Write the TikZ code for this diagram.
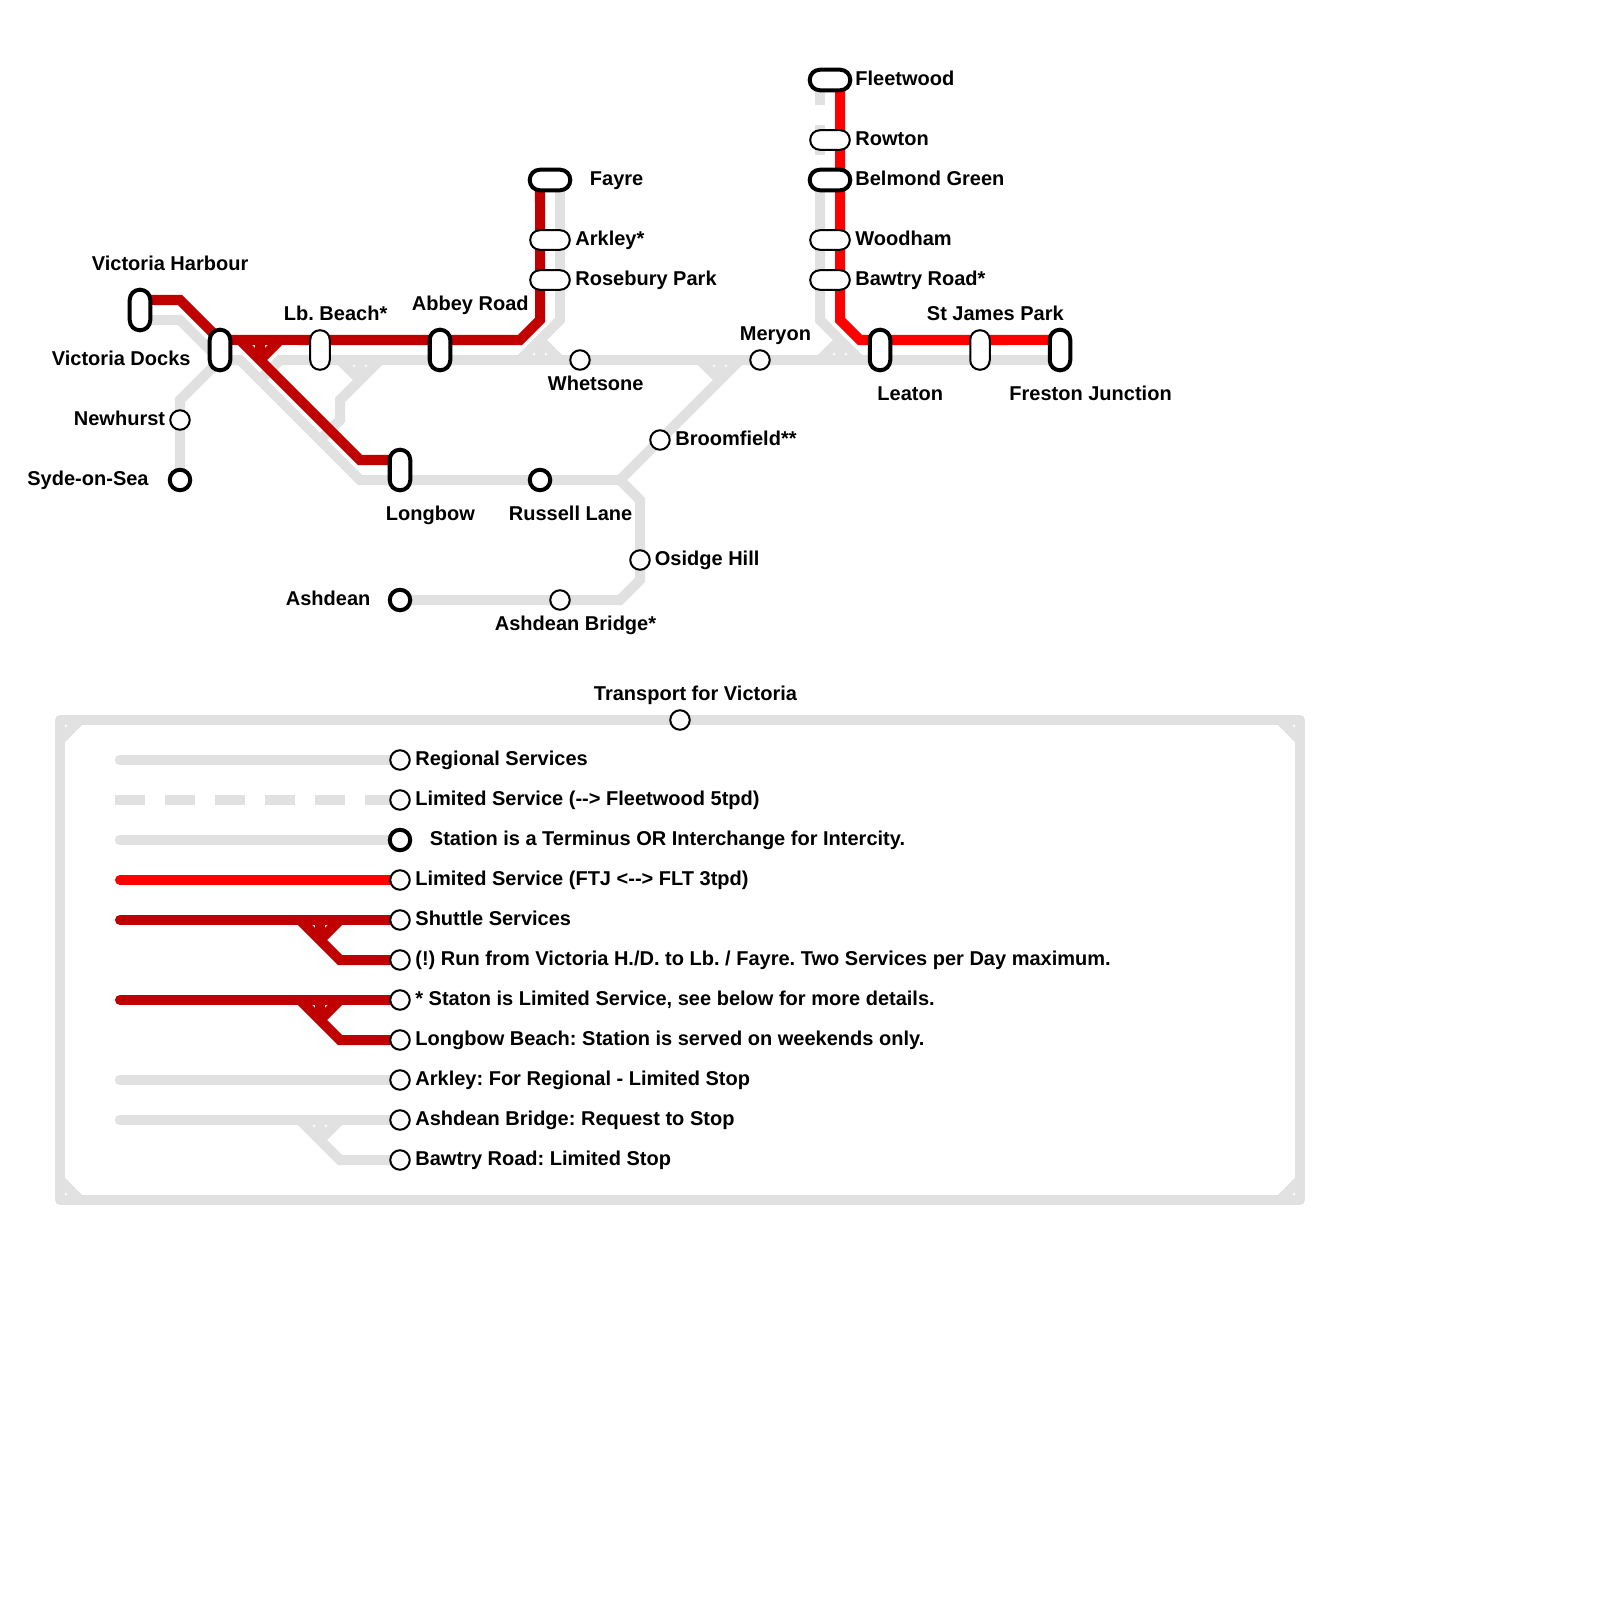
\documentclass[tikz,border=0pt]{standalone}
\usepackage{fontspec}
\setmainfont{Liberation Sans}
\usepackage{xcolor}
\usepackage{tikz}
\usetikzlibrary{backgrounds}
\definecolor{railgrey}{HTML}{E1E1E1}
\definecolor{railred}{HTML}{FF0000}
\definecolor{raildark}{HTML}{C00000}
\frenchspacing

\begin{document}
\begin{tikzpicture}[x=0.01cm,y=-0.01cm,
    regional/.style={line width=1mm,railgrey},
    limited/.style={line width=1mm,railred},
    shuttle/.style={line width=1mm,raildark},
    vstn/.style={draw,fill=white,rectangle,rounded corners=0.95mm,inner sep=0pt,outer sep=0pt,line width=0.2mm,minimum width=1.95mm,minimum height=3.95mm},
    hstn/.style={draw,fill=white,rectangle,rounded corners=0.95mm,inner sep=0pt,outer sep=0pt,line width=0.2mm,minimum width=3.95mm,minimum height=1.95mm},
    halt/.style={draw,fill=white,circle,inner sep=0pt,outer sep=0pt,line width=0.2mm,minimum size=1.95mm},
    vmajor/.style={vstn,line width=0.4mm,minimum width=2.05mm,minimum height=4.05mm,rounded corners=1mm},
    hmajor/.style={hstn,line width=0.4mm,minimum width=4.05mm,minimum height=2.05mm,rounded corners=1mm},
    haltmajor/.style={halt,line width=0.4mm,minimum size=2.05mm},
    lbl/.style={font=\bfseries\fontsize{2mm}{2.4mm}\selectfont,anchor=base west,inner sep=0pt,xshift=-0.08mm}]
  \useasboundingbox (0,0) rectangle (1600,1600);

  % stations
  \node[vmajor] (vharbour) at (140,310) {};
  \node[vmajor] (vdocks) at (220,350) {};
  \node[vstn] (lbbeach) at (320,350) {};
  \node[vmajor] (abbey) at (440,350) {};
  \node[vmajor] (longbow) at (400,470) {};
  \node[vmajor] (leaton) at (880,350) {};
  \node[vstn] (stjames) at (980,350) {};
  \node[vmajor] (freston) at (1060,350) {};
  \node[hmajor] (fayre) at (550,180) {};
  \node[hstn] (arkley) at (550,240) {};
  \node[hstn] (rosebury) at (550,280) {};
  \node[hmajor] (fleetwood) at (830,80) {};
  \node[hstn] (rowton) at (830,140) {};
  \node[hmajor] (belmond) at (830,180) {};
  \node[hstn] (woodham) at (830,240) {};
  \node[hstn] (bawtry) at (830,280) {};
  \node[halt] (newhurst) at (180,420) {};
  \node[haltmajor] (syde) at (180,480) {};
  \node[halt] (whetsone) at (580,360) {};
  \node[halt] (meryon) at (760,360) {};
  \node[halt] (broomfield) at (660,440) {};
  \node[haltmajor] (russell) at (540,480) {};
  \node[halt] (osidge) at (640,560) {};
  \node[halt] (ashbridge) at (560,600) {};
  \node[haltmajor] (ashdean) at (400,600) {};

  % legend stations
  \node[halt] (tfv) at (680,720) {};
  \node[halt] (rowa) at (400,760) {};
  \node[halt] (rowb) at (400,800) {};
  \node[haltmajor] (rowc) at (400,840) {};
  \node[halt] (rowd) at (400,880) {};
  \node[halt] (rowe) at (400,920) {};
  \node[halt] (rowf) at (400,960) {};
  \node[halt] (rowg) at (400,1000) {};
  \node[halt] (rowh) at (400,1040) {};
  \node[halt] (rowi) at (400,1080) {};
  \node[halt] (rowj) at (400,1120) {};
  \node[halt] (rowk) at (400,1160) {};

  \coordinate (starta) at (120,760);
  \coordinate (startb) at (115,800);
  \coordinate (startc) at (120,840);
  \coordinate (startd) at (120,880);
  \coordinate (starte) at (120,920);
  \coordinate (startg) at (120,1000);
  \coordinate (starti) at (120,1080);
  \coordinate (startj) at (120,1120);

  \begin{pgfonlayer}{background}
    % grey network
    \draw[regional] ([yshift=-1mm]vharbour.center) -- (180,320) -- ([yshift=-1mm]vdocks.center);
    \draw[regional] ([yshift=-1mm]vdocks.center) -- (180,400) -- (syde);
    \draw[regional] ([yshift=-1mm]vdocks.center) -- (240,360) -- (360,480) -- (620,480) -- (640,500) -- (640,580) -- (620,600) -- (ashdean);
    \draw[regional] (620,480) -- (740,360);
    \draw[regional] (260,380) -- (280,360) -- ([yshift=-1mm]freston.center);
    \draw[regional] (340,360) -- (360,380);
    \draw[regional] (360,360) -- (360,380);
    \draw[regional] (380,360) -- (340,400) -- (340,420) -- (320,440);
    \draw[regional] (520,360) -- (560,320) -- ([xshift=1mm]fayre.center);
    \draw[regional] (540,340) -- (540,360);
    \draw[regional] (540,340) -- (560,360);
    \draw[regional] (700,360) -- (720,380);
    \draw[regional] (720,360) -- (720,380);
    \draw[regional] (820,360) -- (840,340);
    \draw[regional] (840,340) -- (840,360);
    \draw[regional] ([xshift=-1mm]belmond.center) -- (820,320) -- (860,360);
    \draw[regional,dash pattern=on 3mm off 2mm,dash phase=0.5mm] ([xshift=-1mm]fleetwood.center) -- ([xshift=-1mm]belmond.center);

    % red lines
    \draw[shuttle] ([yshift=1mm]vharbour.center) -- (180,300) -- ([yshift=1mm]vdocks.center) -- (520,340) -- (540,320) -- ([xshift=-1mm]fayre.center);
    \draw[shuttle] (240,340) -- (360,460) -- ([yshift=1mm]longbow.center);
    \draw[shuttle] (260,340) -- (260,360);
    \draw[shuttle] (280,340) -- (260,360);
    \draw[limited] ([xshift=1mm]fleetwood.center) -- (840,320) -- (860,340) -- ([yshift=1mm]freston.center);

    % legend frame
    \draw[regional,line join=round] (60,720) rectangle (1300,1200);
    \draw[regional] (60,740) -- (80,720);
    \draw[regional] (1280,720) -- (1300,740);
    \draw[regional] (60,1180) -- (80,1200);
    \draw[regional] (1280,1200) -- (1300,1180);

    % legend lines
    \draw[regional,line cap=round] (starta) -- (rowa);
    \draw[regional,dash pattern=on 3mm off 2mm] (startb) -- (rowb);
    \draw[regional,line cap=round] (startc) -- (rowc);
    \draw[limited,line cap=round] (startd) -- (rowd);
    \draw[shuttle,line cap=round] (starte) -- (rowe);
    \draw[shuttle] (300,920) -- (340,960) -- (rowf);
    \draw[shuttle] (320,920) -- (320,940);
    \draw[shuttle] (340,920) -- (320,940);
    \draw[shuttle,line cap=round] (startg) -- (rowg);
    \draw[shuttle] (300,1000) -- (340,1040) -- (rowh);
    \draw[shuttle] (320,1000) -- (320,1020);
    \draw[shuttle] (340,1000) -- (320,1020);
    \draw[regional,line cap=round] (starti) -- (rowi);
    \draw[regional,line cap=round] (startj) -- (rowj);
    \draw[regional] (300,1120) -- (340,1160) -- (rowk);
    \draw[regional] (320,1120) -- (320,1140);
    \draw[regional] (340,1120) -- (320,1140);
  \end{pgfonlayer}

  % station names
  \node[lbl] (lbharbour) at (92,270) {Victoria Harbour};
  \node[lbl] (lbdocks) at (52,365) {Victoria Docks};
  \node[lbl] (lbnewhurst) at (74,425) {Newhurst};
  \node[lbl] (lbsyde) at (27.5,485) {Syde-on-Sea};
  \node[lbl] (lblbbeach) at (284,320) {Lb. Beach*};
  \node[lbl] (lbabbey) at (412,310) {Abbey Road};
  \node[lbl] (lblongbow) at (386,520) {Longbow};
  \node[lbl] (lbrussell) at (509,520) {Russell Lane};
  \node[lbl] (lbashdean) at (286,605) {Ashdean};
  \node[lbl] (lbashbridge) at (495,630) {Ashdean Bridge*};
  \node[lbl] (lbosidge) at (655,565) {Osidge Hill};
  \node[lbl] (lbbroomfield) at (675.5,445) {Broomfield**};
  \node[lbl] (lbwhetsone) at (548,390) {Whetsone};
  \node[lbl] (lbmeryon) at (740,340) {Meryon};
  \node[lbl] (lbfayre) at (590,185.3) {Fayre};
  \node[lbl] (lbarkley) at (575.5,245.3) {Arkley*};
  \node[lbl] (lbrosebury) at (575.5,285) {Rosebury Park};
  \node[lbl] (lbfleetwood) at (855.5,86) {Fleetwood};
  \node[lbl] (lbrowton) at (855.5,145.3) {Rowton};
  \node[lbl] (lbbelmond) at (855.5,185.3) {Belmond Green};
  \node[lbl] (lbwoodham) at (855.5,245.3) {Woodham};
  \node[lbl] (lbbawtry) at (855.5,285) {Bawtry Road*};
  \node[lbl] (lbstjames) at (927,320) {St James Park};
  \node[lbl] (lbleaton) at (877.5,400) {Leaton};
  \node[lbl] (lbfreston) at (1009.5,400) {Freston Junction};

  % legend text
  \node[lbl] (lbtfv) at (594,700) {Transport for Victoria};
  \node[lbl] (lbrowa) at (415.5,765) {Regional Services};
  \node[lbl] (lbrowb) at (415.5,805) {Limited Service (-{}-> Fleetwood 5tpd)};
  \node[lbl] (lbrowc) at (430,845) {Station is a Terminus OR Interchange for Intercity.};
  \node[lbl] (lbrowd) at (415.5,885) {Limited Service (FTJ <-{}-> FLT 3tpd)};
  \node[lbl] (lbrowe) at (415.5,925) {Shuttle Services};
  \node[lbl] (lbrowf) at (415.5,965) {(!) Run from Victoria H./D. to Lb. / Fayre. Two Services per Day maximum.};
  \node[lbl] (lbrowg) at (415.5,1005) {* Staton is Limited Service, see below for more details.};
  \node[lbl] (lbrowh) at (415.5,1045) {Longbow Beach: Station is served on weekends only.};
  \node[lbl] (lbrowi) at (415.5,1085) {Arkley: For Regional - Limited Stop};
  \node[lbl] (lbrowj) at (415.5,1125) {Ashdean Bridge: Request to Stop};
  \node[lbl] (lbrowk) at (415.5,1165) {Bawtry Road: Limited Stop};
\end{tikzpicture}
\end{document}
